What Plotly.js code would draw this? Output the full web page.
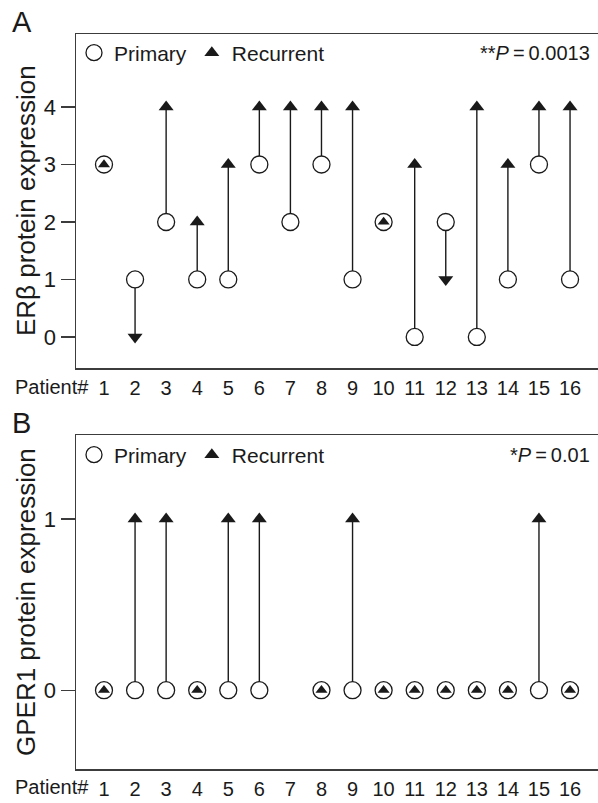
<!DOCTYPE html>
<html>
<head>
<meta charset="utf-8">
<script src="https://cdn.plot.ly/plotly-3.0.1.min.js"></script>
<style>html,body{margin:0;padding:0;background:#fff;}#chart{width:598px;height:803px;}</style>
</head>
<body>
<div id="chart"></div>
<script>
// ---- Data ----
const patients = [1,2,3,4,5,6,7,8,9,10,11,12,13,14,15,16];
const erbPrimary   = [3,1,2,1,1,3,2,3,1,2,0,2,0,1,3,1];
const erbRecurrent = [3,0,4,2,3,4,4,4,4,2,3,1,4,3,4,4];
const gperPrimary   = [0,0,0,0,0,0,null,0,0,0,0,0,0,0,0,0];
const gperRecurrent = [0,1,1,0,1,1,null,0,1,0,0,0,0,0,1,0];
const erbTicks = [0,1,2,3,4];
const gperTicks = [0,1];
const pTextA = '**<i>P</i>\u2009=\u20090.0013';
const pTextB = '*<i>P</i>\u2009=\u20090.01';

const FONT = 'Liberation Sans, Arial, Helvetica, sans-serif';
const INK = '#1a1a1a';
const AX = '#3c3c3c';

function panelTraces(prim, rec, xa, ya, legendId) {
  const segX = [], segY = [];
  const cX = [], cY = [];
  const upX = [], upY = [], dnX = [], dnY = [], sX = [], sY = [];
  patients.forEach((p, i) => {
    const a = prim[i], b = rec[i];
    if (a === null || b === null) return;
    cX.push(p); cY.push(a);
    if (a === b) { sX.push(p); sY.push(b); }
    else {
      segX.push(p, p, null); segY.push(a, b, null);
      if (b > a) { upX.push(p); upY.push(b); } else { dnX.push(p); dnY.push(b); }
    }
  });
  return [
    {x: segX, y: segY, xaxis: xa, yaxis: ya, mode: 'lines', line: {color: INK, width: 1.4}, showlegend: false, hoverinfo: 'skip'},
    {x: cX, y: cY, xaxis: xa, yaxis: ya, mode: 'markers', name: 'Primary', legend: legendId,
     marker: {symbol: 'circle', size: 17, color: '#ffffff', line: {color: INK, width: 1.3}}},
    {x: upX, y: upY, xaxis: xa, yaxis: ya, mode: 'markers', name: 'Recurrent', legend: legendId,
     marker: {symbol: 'triangle-up', size: 13, color: INK, line: {width: 0}}},
    {x: dnX, y: dnY, xaxis: xa, yaxis: ya, mode: 'markers', showlegend: false,
     marker: {symbol: 'triangle-down', size: 13, color: INK, line: {width: 0}}},
    {x: sX, y: sY, xaxis: xa, yaxis: ya, mode: 'markers', showlegend: false,
     marker: {symbol: 'triangle-up', size: 10.5, color: INK, line: {width: 0}}}
  ];
}

const data = [].concat(
  panelTraces(erbPrimary, erbRecurrent, 'x', 'y', 'legend'),
  panelTraces(gperPrimary, gperRecurrent, 'x2', 'y2', 'legend2')
);

const H = 803, W = 598;
const py = v => 1 - v / H;
const px = v => v / W;

function xAxis(anchor) {
  return {
    domain: [px(76), 1], anchor: anchor, range: [0.099, 16.9],
    tickmode: 'array', tickvals: patients, ticktext: patients.map(String),
    ticks: '', showline: true, mirror: true, linecolor: AX, linewidth: 1.5,
    showgrid: false, zeroline: false, ticklabelstandoff: 1,
    tickfont: {family: FONT, size: 20, color: INK}
  };
}
function yAxis(dom, range, ticks, anchor) {
  return {
    domain: dom, anchor: anchor, range: range,
    tickmode: 'array', tickvals: ticks, ticktext: ticks.map(String),
    ticks: 'outside', ticklen: 14, tickwidth: 1.3, tickcolor: AX,
    showline: true, linecolor: AX, linewidth: 1.5, mirror: false,
    showgrid: false, zeroline: false,
    tickfont: {family: FONT, size: 22, color: INK}
  };
}

const legendBase = {orientation: 'h', xanchor: 'left', yanchor: 'middle',
  bgcolor: 'rgba(0,0,0,0)', borderwidth: 0, font: {family: FONT, size: 21, color: INK},
  itemwidth: 30};

const layout = {
  width: W, height: H,
  margin: {l: 0, r: 0, t: 0, b: 0},
  paper_bgcolor: '#fff', plot_bgcolor: '#fff',
  font: {family: FONT, color: INK},
  showlegend: true,
  xaxis: xAxis('y'),
  yaxis: yAxis([py(368), py(34)], [-0.54, 5.27], erbTicks, 'x'),
  xaxis2: xAxis('y2'),
  yaxis2: yAxis([py(769), py(435)], [-0.46, 1.49], gperTicks, 'x2'),
  legend: Object.assign({}, legendBase, {x: px(74), y: py(53)}),
  legend2: Object.assign({}, legendBase, {x: px(74), y: py(455)}),
  annotations: [
    {text: 'A', xref: 'paper', yref: 'paper', x: px(10), y: py(22), xanchor: 'left', yanchor: 'middle', showarrow: false, font: {family: FONT, size: 29, color: INK}},
    {text: 'B', xref: 'paper', yref: 'paper', x: px(10), y: py(423), xanchor: 'left', yanchor: 'middle', showarrow: false, font: {family: FONT, size: 29, color: INK}},
    {text: 'ERβ protein expression', xref: 'paper', yref: 'paper', x: px(26), y: py(201), textangle: -90, xanchor: 'center', yanchor: 'middle', showarrow: false, font: {family: FONT, size: 26, color: INK}},
    {text: 'GPER1 protein expression', xref: 'paper', yref: 'paper', x: px(26), y: py(602), textangle: -90, xanchor: 'center', yanchor: 'middle', showarrow: false, font: {family: FONT, size: 26, color: INK}},
    {text: 'Patient#', xref: 'paper', yref: 'paper', x: px(91), y: py(387), xanchor: 'right', yanchor: 'middle', showarrow: false, font: {family: FONT, size: 20, color: INK}},
    {text: 'Patient#', xref: 'paper', yref: 'paper', x: px(91), y: py(787), xanchor: 'right', yanchor: 'middle', showarrow: false, font: {family: FONT, size: 20, color: INK}},
    {text: pTextA, xref: 'paper', yref: 'paper', x: px(592), y: py(53), xanchor: 'right', yanchor: 'middle', showarrow: false, font: {family: FONT, size: 20, color: INK}},
    {text: pTextB, xref: 'paper', yref: 'paper', x: px(592), y: py(455), xanchor: 'right', yanchor: 'middle', showarrow: false, font: {family: FONT, size: 20, color: INK}}
  ]
};

Plotly.newPlot('chart', data, layout, {staticPlot: true, displayModeBar: false});
</script>
</body>
</html>
